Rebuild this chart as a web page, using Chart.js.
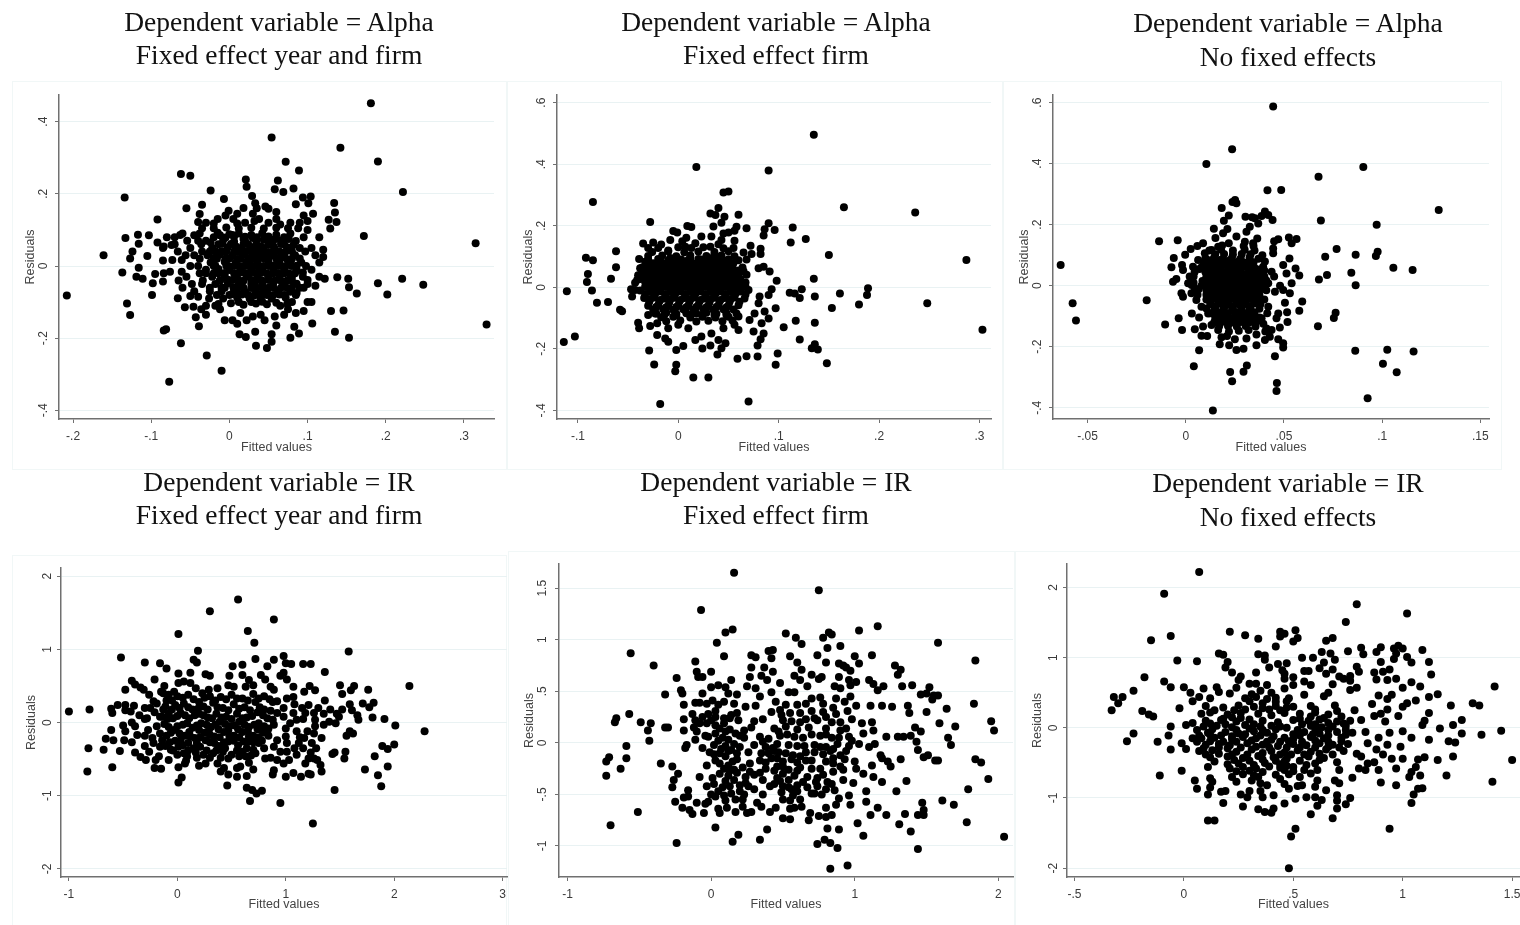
<!DOCTYPE html>
<html>
<head>
<meta charset="utf-8">
<title>Residuals vs fitted values</title>
<script src="https://cdn.jsdelivr.net/npm/chart.js@4"></script>
<style>
  html, body { margin: 0; padding: 0; background: #fff; width: 1520px; height: 925px; overflow: hidden; }
  #page { position: relative; width: 1520px; height: 925px; overflow: hidden; filter: blur(0.4px); }
  .frame { position: absolute; box-sizing: border-box; border: 1px solid #f1f7f7; }
  .title { position: absolute; width: 500px; text-align: center; font-family: "Liberation Serif", serif; font-size: 27.5px; line-height: 33.5px; color: #111; white-space: nowrap; }
  canvas { position: absolute; }
</style>
</head>
<body>
<div id="page"></div>
<script>
// residuals vs fitted: [fitted, residual]
const alphaYearFirm = [
[.181,.451],[.054,.356],[.142,.328],[.072,.289],[.19,.29],[.089,.265],[-.062,.255],[-.05,.25],[.021,.24],[.022,.22],[.062,.237],[.058,.213],[.069,.205],[.082,.215],[-.024,.209],[.222,.205],[-.134,.19],[.029,.194],[-.007,.186],[.094,.19],[.104,.193],[.101,.174],[.134,.175],[.085,.171],[-.035,.17],[-.055,.16],[.018,.161],[.033,.174],[.035,.16],[.046,.165],[.05,.159],[-.001,.153],[-.038,.144],[.135,.148],[.107,.145],[-.092,.129],[.127,.128],[.137,.122],[.129,.104],[.172,.083],[.315,.063],[-.161,.03],[-.208,-.082],[-.137,-.018],[-.131,-.104],[-.127,-.136],[-.133,.078],[-.117,.087],[-.103,.085],[-.116,.062],[-.092,.065],[-.124,.04],[-.127,.021],[-.105,.028],[-.116,-.005],[-.119,-.03],[-.111,-.035],[-.098,-.048],[-.095,-.022],[-.085,-.043],[-.084,-.02],[-.076,-.016],[-.099,-.08],[-.085,.015],[-.073,.017],[-.061,.017],[-.084,.054],[-.08,.08],[-.074,.058],[-.063,.086],[-.061,-.016],[-.066,-.089],[-.057,-.114],[-.05,-.083],[-.046,-.113],[-.043,-.142],[-.039,-.167],[-.062,-.214],[-.084,-.179],[-.081,-.175],[-.077,-.321],[-.01,-.29],[-.029,-.248],[.034,-.221],[.048,-.227],[.054,-.21],[.021,-.197],[.013,-.189],[.033,-.182],[.054,-.189],[.078,-.199],[.083,-.168],[.089,-.187],[.106,-.159],[.135,-.182],[.153,-.199],[.13,-.125],[.146,-.123],[.163,-.076],[.153,-.059],[.152,-.035],[.138,-.031],[.19,-.048],[.202,-.079],[.221,-.035],[.248,-.052],[.329,-.162],
[-.015,.092],[0,.088],[.012,.09],[.028,.086],[.042,.091],[.06,.087],[.078,.09],[-.03,.07],[-.008,.072],[.006,.068],[.02,.07],[.035,.072],[.05,.068],[.066,.071],[.085,.069],[-.022,.05],[-.002,.052],[.013,.049],[.028,.051],[.044,.05],[.058,.048],[.074,.052],[.09,.05],[-.028,.03],[-.012,.032],[.004,.029],[.018,.031],[.03,.03],[.042,.032],[.056,.029],[.07,.031],[.084,.03],[-.024,.01],[-.006,.012],[.008,.009],[.022,.011],[.036,.01],[.05,.012],[.064,.009],[.078,.011],[.092,.01],[-.03,-.01],[-.014,-.008],[0,-.011],[.014,-.009],[.028,-.01],[.042,-.008],[.056,-.011],[.07,-.009],[.086,-.01],[-.022,-.03],[-.006,-.028],[.008,-.031],[.022,-.029],[.036,-.03],[.05,-.028],[.064,-.031],[.08,-.029],[.094,-.03],[-.018,-.05],[-.002,-.048],[.012,-.051],[.028,-.049],[.042,-.05],[.056,-.048],[.07,-.051],[.086,-.049],[-.01,-.07],[.006,-.068],[.02,-.071],[.034,-.069],[.048,-.07],[.062,-.068],[.078,-.071],[-.008,-.09],[.01,-.088],[.026,-.091],[.04,-.089],[.054,-.09],[.072,-.088],
[-.05,.05],[-.045,.03],[-.05,0],[-.04,.07],[-.038,.09],[-.045,.085],[-.035,.105],[-.04,.122],[-.03,.12],[-.015,.13],[-.005,.14],[.005,.13],[.01,.145],[.02,.12],[.032,.125],[.038,.13],[.05,.12],[.06,.13],[.065,.115],[.075,.105],[.09,.12],[.095,.14],[.088,.105],[.1,.1],[.095,.08],[.115,.08],[.105,.05],[.12,.045],[.11,.03],[.12,.025],[.115,.01],[.105,-.01],[.115,-.03],[.122,-.035],[.1,-.05],[.11,-.055],[.095,-.06],[.085,-.08],[.08,-.1],[.075,-.12],[.085,-.13],[.07,-.135],[.065,-.11],[.058,-.14],[.045,-.15],[.04,-.135],[.03,-.14],[.022,-.15],[.014,-.13],[.004,-.15],[-.006,-.15],[-.012,-.12],[-.018,-.11],[-.026,-.09],[-.03,-.11],[-.036,-.12],[-.04,-.085],[-.048,-.05],[-.055,-.03],[-.045,-.07],[-.025,-.07],[-.035,-.05],[-.038,-.02],[.1,-.1],[.105,-.1],[.095,-.125],[-.056,.03],[-.054,.07],[-.06,.09],[-.085,.05],[-.07,.06],[-.066,.04],
[-.02,.08],[-.005,.079],[.006,.082],[.02,.081],[.035,.08],[.05,.082],[.07,.08],[-.036,.06],[-.014,.06],[.002,.061],[.018,.06],[.034,.059],[.05,.06],[.066,.061],[.082,.058],[-.035,.04],[-.018,.041],[-.004,.04],[.01,.039],[.022,.04],[.036,.041],[.05,.039],[.064,.04],[.08,.041],[.097,.04],[-.038,.02],[-.016,.02],[0,.021],[.014,.02],[.028,.019],[.044,.021],[.06,.02],[.074,.019],[.09,.021],[-.04,0],[-.02,0],[-.004,.001],[.012,0],[.024,.001],[.036,-.001],[.05,0],[.064,.001],[.08,0],[.098,0],[-.03,-.02],[-.014,-.02],[.006,-.021],[.02,-.019],[.034,-.02],[.048,-.021],[.062,-.019],[.076,-.02],[.094,-.018],[-.034,-.04],[-.012,-.04],[.004,-.039],[.018,-.041],[.034,-.04],[.05,-.039],[.066,-.041],[.08,-.04],[.1,-.039],[-.025,-.06],[-.006,-.06],[.012,-.059],[.028,-.061],[.042,-.06],[.056,-.059],[.074,-.061],[.09,-.06],[-.016,-.08],[0,-.08],[.016,-.079],[.032,-.081],[.048,-.08],[.064,-.079],[.086,-.075],[-.014,-.105],[.002,-.103],[.018,-.107],[.034,-.104],[.048,-.106],[.06,-.102],[.074,-.105],[-.02,.105],[-.004,.107],[.012,.104],[.028,.106],[.044,.104],[.06,.106],[.01,.118],[-.02,.118],[.078,.12],[.076,.075],[-.06,-.06],[-.03,-.135],[.01,-.16],[.06,-.165],[.03,.145],[.06,.15],[.1,.125],[-.07,.08],[-.065,-.04]
];
const alphaYearFirmCore = [
[-.012,.085],[.004,.086],[.018,.075],[.03,.078],[.044,.073],[.058,.074],[-.024,.065],[-.009,.062],[.008,.055],[.024,.06],[.04,.055],[.056,.056],[.07,.06],[-.025,.04],[-.01,.041],[.006,.04],[.016,.041],[.03,.044],[.042,.042],[.058,.04],[.072,.04],[-.02,.022],[-.005,.02],[.01,.019],[.024,.02],[.036,.022],[.05,.022],[.066,.022],[.08,.02],[-.018,.001],[-.002,.001],[.006,0],[.018,0],[.03,0],[.044,0],[.058,.002],[.072,0],[.086,.001],[-.02,-.02],[-.006,-.019],[.012,-.02],[.026,-.02],[.04,-.019],[.056,-.02],[.07,-.02],[.084,-.02],[-.012,-.04],[-.002,-.038],[.012,-.04],[.028,-.039],[.042,-.04],[.058,-.04],[.074,-.04],[-.01,-.06],[.005,-.059],[.018,-.06],[.034,-.059],[.05,-.06],[.066,-.06],[.08,-.06],[.003,-.078],[.012,-.079],[.024,-.08],[.04,-.079],[.056,-.08],[.07,-.08],[.012,-.1],[.028,-.1],[.042,-.099]
];
const alphaFirm = [
[.135,.496],[.018,.391],[.09,.38],[-.085,.277],[.045,.308],[.05,.311],[.165,.26],[.236,.243],[.04,.258],[.032,.24],[.037,.235],[.06,.236],[.046,.229],[-.028,.212],[.043,.21],[.035,.198],[.009,.199],[.013,.196],[.09,.208],[.114,.194],[.058,.197],[.068,.192],[.096,.186],[.086,.189],[.085,.168],[.056,.184],[-.005,.183],[-.001,.178],[.127,.157],[.112,.146],[.008,.161],[.023,.165],[.033,.165],[.045,.175],[.05,.178],[.043,.154],[.056,.151],[-.035,.142],[-.025,.146],[-.017,.139],[-.008,.154],[.007,.132],[.017,.143],[.032,.132],[.045,.127],[.072,.135],[.082,.125],[.065,.113],[.073,.108],[.082,.108],[.15,.105],[-.062,.117],[-.092,.096],[-.085,.088],[-.039,.092],[-.062,.065],[-.09,.043],[-.067,.028],[-.091,.017],[-.086,-.01],[-.111,-.013],[-.081,-.05],[-.07,-.048],[-.058,-.073],[-.056,-.078],[-.114,-.178],[-.103,-.16],[.287,.089],[.248,-.052],[.303,-.138],[.135,.028],[.136,-.03],[.098,.021],[.091,.051],[.085,.067],[.08,.062],[.123,-.006],[.111,-.018],[.116,-.02],[.121,-.035],[.161,-.02],[.189,-.003],[.188,-.025],[.18,-.056],[.153,-.067],[.097,-.068],[.093,-.006],[.09,-.025],[.081,-.03],[.08,-.052],[.076,-.085],[.086,-.079],[.09,-.101],[.083,-.117],[.071,-.106],[.06,-.095],[.056,-.122],[.06,-.139],[.075,-.144],[.085,-.15],[.082,-.169],[.079,-.189],[.117,-.109],[.105,-.13],[.136,-.115],[.121,-.17],[.133,-.198],[.136,-.185],[.139,-.202],[.099,-.215],[.097,-.252],[.148,-.247],[.079,-.225],[.068,-.224],[.059,-.232],[.07,-.371],[-.018,-.379],[.015,-.293],[.03,-.293],[-.003,-.273],[-.002,-.252],[-.024,-.251],[-.029,-.205],[-.002,-.204],[.005,-.191],[.024,-.199],[.032,-.189],[.039,-.218],[.043,-.198],[.047,-.182],[.04,-.171],[.033,-.15],[.045,-.133],[.017,-.171],[.023,-.16],[.01,-.133],[0,-.122],[-.01,-.133],[-.01,-.177],[-.013,-.166],[-.021,-.155],[-.039,-.133],[-.04,-.115],[-.028,-.126],[-.021,-.117],[-.03,-.09],[-.023,-.085],[-.046,-.03],[-.047,-.006],[-.041,.024],[-.043,-.009],[-.038,.062],[-.033,.083],
[-.03,.09],[-.02,.092],[-.01,.088],[0,.091],[.01,.089],[.02,.092],[.03,.088],[.04,.09],[.05,.091],[.06,.088],[-.036,.064],[-.026,.066],[-.016,.063],[-.006,.065],[.004,.067],[.014,.064],[.024,.066],[.034,.063],[.044,.065],[.054,.067],[.064,.064],[-.04,.039],[-.03,.041],[-.02,.038],[-.01,.04],[0,.042],[.01,.039],[.02,.041],[.03,.038],[.04,.04],[.05,.042],[.06,.039],[.068,.041],[-.043,.015],[-.033,.017],[-.023,.014],[-.013,.016],[-.003,.015],[.007,.017],[.017,.014],[.027,.016],[.037,.015],[.047,.017],[.057,.014],[.067,.016],[-.038,-.01],[-.028,-.008],[-.018,-.011],[-.008,-.009],[.002,-.01],[.012,-.008],[.022,-.011],[.032,-.009],[.042,-.01],[.052,-.008],[.062,-.011],[.07,-.009],[-.034,-.035],[-.024,-.033],[-.014,-.036],[-.004,-.034],[.006,-.035],[.016,-.033],[.026,-.036],[.036,-.034],[.046,-.035],[.056,-.033],[.066,-.036],[-.03,-.06],[-.02,-.058],[-.01,-.061],[0,-.059],[.01,-.06],[.02,-.058],[.03,-.061],[.04,-.059],[.05,-.06],[.06,-.058],[-.022,-.085],[-.012,-.083],[-.002,-.086],[.008,-.084],[.018,-.085],[.028,-.083],[.038,-.086],[.048,-.084],[.058,-.085],[-.012,-.11],[.002,-.108],[.018,-.111],[.03,-.109],[.044,-.11],[.054,-.108],[-.026,.115],[-.01,.117],[.006,.114],[.02,.116],[.036,.115],[.05,.117],
[-.025,.078],[-.015,.077],[-.005,.079],[.005,.078],[.015,.077],[.025,.079],[.035,.078],[.045,.077],[.055,.079],[-.035,.052],[-.025,.052],[-.015,.051],[-.005,.053],[.005,.052],[.015,.051],[.025,.053],[.035,.052],[.045,.051],[.055,.053],[.065,.052],[-.038,.027],[-.028,.028],[-.018,.026],[-.008,.028],[.002,.027],[.012,.028],[.022,.026],[.032,.028],[.042,.027],[.052,.028],[.062,.026],[-.033,.002],[-.023,.003],[-.013,.001],[-.003,.003],[.007,.002],[.017,.003],[.027,.001],[.037,.003],[.047,.002],[.057,.003],[.067,.001],[-.033,-.022],[-.023,-.021],[-.013,-.023],[-.003,-.021],[.007,-.022],[.017,-.021],[.027,-.023],[.037,-.021],[.047,-.022],[.057,-.021],[.067,-.023],[-.029,-.048],[-.019,-.047],[-.009,-.049],[.001,-.047],[.011,-.048],[.021,-.047],[.031,-.049],[.041,-.047],[.051,-.048],[.061,-.047],[-.025,-.072],[-.015,-.071],[-.005,-.073],[.005,-.071],[.015,-.072],[.025,-.071],[.035,-.073],[.045,-.071],[.055,-.072],[-.017,-.097],[-.005,-.096],[.012,-.098],[.024,-.096],[.037,-.098],[.05,-.096],[-.03,.102],[-.016,.103],[-.002,.101],[.012,.103],[.028,.102],[.043,.103],[.056,.101],[-.02,.128],[0,.13],[.013,.128],[.025,.13],[.04,.14],[.055,.128],[-.03,.128],[.004,.15],[-.01,.12],[.036,.105],[.068,.09]
];
const alphaFirmCore = [
[-.018,.09],[-.008,.095],[.003,.09],[.012,.095],[.023,.09],[.034,.095],[.044,.088],[-.03,.071],[-.02,.07],[-.01,.072],[.001,.073],[.01,.07],[.02,.072],[.03,.071],[.04,.073],[.05,.071],[-.032,.052],[-.021,.054],[-.01,.053],[0,.055],[.01,.053],[.02,.054],[.03,.053],[.04,.055],[.05,.053],[.06,.055],[-.034,.033],[-.024,.034],[-.014,.033],[-.004,.034],[.006,.033],[.016,.034],[.026,.033],[.036,.034],[.046,.033],[.056,.034],[-.028,.01],[-.018,.011],[-.008,.01],[.002,.011],[.012,.01],[.022,.011],[.032,.01],[.042,.011],[.052,.01],[.062,.011],[-.028,-.015],[-.018,-.014],[-.008,-.015],[.002,-.014],[.012,-.015],[.022,-.014],[.032,-.015],[.042,-.014],[.052,-.015],[.062,-.014],[-.028,-.04],[-.018,-.041],[-.008,-.04],[.002,-.041],[.012,-.04],[.022,-.041],[.032,-.04],[.042,-.041],[.052,-.04],[-.022,-.064],[-.012,-.065],[-.002,-.064],[.008,-.065],[.018,-.064],[.028,-.065],[.038,-.064],[.048,-.065],[-.014,-.09],[-.002,-.09],[.012,-.09],[.024,-.09],[.036,-.09],[.048,-.09]
];
const alphaNone = [
[.0445,.587],[.0236,.447],[.0105,.399],[.0904,.389],[.0676,.357],[.0416,.313],[.0486,.314],[.0251,.281],[.0238,.274],[.0258,.27],[.0183,.255],[.1288,.248],[.0403,.243],[.042,.232],[.0386,.228],[.0442,.215],[.0352,.221],[.0304,.226],[.0338,.224],[.0688,.214],[.0219,.23],[.0194,.213],[.0972,.2],[.0143,.187],[.0212,.186],[.019,.172],[.0369,.204],[.0326,.193],[.0309,.177],[-.0136,.146],[-.0041,.149],[.0151,.156],[.0258,.161],[.0364,.155],[.0471,.152],[.045,.146],[.0525,.158],[.0564,.153],[.0539,.139],[.0088,.139],[.0059,.13],[.0025,.12],[.0165,.128],[.0219,.139],[.0301,.144],[.0343,.139],[.0445,.122],[.0445,.106],[.0768,.12],[.0865,.101],[.0977,.111],[.0968,.097],[.071,.095],[.0528,.089],[-.0061,.091],[-.0003,.101],[-.0073,.06],[-.0019,.068],[-.0014,.051],[-.0048,.022],[-.0065,.013],[-.0637,.068],[.1057,.059],[.1155,.051],[.0843,.042],[.0719,.035],[.0678,.02],[.0865,.001],[.0559,.056],[.0578,.033],[.0496,.068],[.0513,.04],[.0539,.008],[.053,-.025],[.0496,-.014],[.0454,-.02],[.042,.008],[.0437,.046],[.0403,.079],[.0394,.062],[-.0576,-.058],[-.0559,-.114],[-.0199,-.048],[-.0105,-.127],[-.0036,-.107],[-.0019,-.145],[.0031,-.091],[.0046,-.143],[.0068,-.104],[.0088,-.134],[.008,-.164],[.0109,-.165],[.0068,-.212],[.0041,-.264],[.0593,-.052],[.0578,-.082],[.0505,-.056],[.0516,-.087],[.0518,-.119],[.0471,-.091],[.0462,-.107],[.0479,-.137],[.0437,-.145],[.0411,-.14],[.0428,-.167],[.0403,-.178],[.0471,-.176],[.0496,-.189],[.0496,-.203],[.0454,-.231],[.036,-.195],[.0294,-.207],[.0258,-.211],[.0221,-.195],[.0173,-.192],[.0309,-.173],[.025,-.176],[.0182,-.169],[.0386,-.107],[.042,-.069],[.0226,-.283],[.0236,-.313],[.0294,-.282],[.0311,-.262],[.0464,-.319],[.0462,-.345],[.0138,-.409],[.0926,-.369],[.0863,-.213],[.1026,-.21],[.116,-.216],[.1004,-.256],[.1074,-.284],[.0673,-.133],[.0763,-.089],[.0754,-.106],[-.0022,-.025],[-.0014,-.036],[.002,.03],[.0012,.008],[.0029,-.025],[.0054,-.047],[.0046,-.009],[.008,-.069],[.0114,-.091],[.0131,-.129],[.0063,.084],[.0037,.062],[.0097,.106],[.0131,.117],
[.01,.09],[.0145,.092],[.019,.088],[.0235,.091],[.028,.089],[.0325,.092],[.037,.088],[.008,.06],[.0125,.062],[.017,.059],[.0215,.061],[.026,.06],[.0305,.062],[.035,.059],[.04,.03],[.0105,.03],[.015,.032],[.0195,.029],[.024,.031],[.0285,.03],[.033,.032],[.0375,.029],[.008,0],[.0125,.002],[.017,-.001],[.0215,.001],[.026,0],[.0305,.002],[.035,-.001],[.0395,.001],[.0105,-.03],[.015,-.028],[.0195,-.031],[.024,-.029],[.0285,-.03],[.033,-.028],[.0375,-.031],[.0125,-.06],[.017,-.058],[.0215,-.061],[.026,-.059],[.0305,-.06],[.035,-.058],[.038,-.061],[.0125,-.09],[.017,-.088],[.0215,-.091],[.026,-.089],[.0305,-.09],[.035,-.088],[.0145,-.12],[.019,-.118],[.0235,-.121],[.028,-.119],[.0325,-.12],[.036,-.118],[.0165,-.145],[.022,-.15],[.027,-.148],[.032,-.145],[.012,.115],[.018,.118],[.024,.115],[.03,.118],[.035,.115],[.004,.03],[.004,.01],[.006,-.03],[.007,.055],
[.012,.076],[.0165,.075],[.021,.077],[.0255,.076],[.03,.075],[.0345,.077],[.01,.045],[.0145,.046],[.019,.044],[.0235,.046],[.028,.045],[.0325,.046],[.037,.044],[.0085,.015],[.013,.016],[.0175,.014],[.022,.016],[.0265,.015],[.031,.016],[.0355,.014],[.0105,-.015],[.015,-.014],[.0195,-.016],[.024,-.014],[.0285,-.015],[.033,-.014],[.0375,-.016],[.0105,-.045],[.015,-.044],[.0195,-.046],[.024,-.044],[.0285,-.045],[.033,-.044],[.0375,-.046],[.0105,-.075],[.015,-.074],[.0195,-.076],[.024,-.074],[.0285,-.075],[.033,-.074],[.0375,-.076],[.015,-.105],[.0195,-.104],[.024,-.106],[.0285,-.104],[.033,-.105],[.0375,-.104],[.017,-.133],[.0215,-.132],[.026,-.134],[.0305,-.132],[.0355,-.134],[.015,.103],[.0195,.104],[.024,.102],[.0285,.104],[.033,.103],[.003,.002],[.0065,-.012],[.0045,.045],[.009,.075],[.04,.05],[.041,.017],[.041,-.015],[.04,-.045],[.0415,-.09],[.0395,-.125],[.0405,-.15],[.036,-.16],[.021,-.165],[.0295,.13],[.0185,.132],[.039,.1],[.0345,.13],[.045,.03],[.048,.0]
];
const alphaNoneCore = [
[.0125,.083],[.0175,.084],[.0225,.083],[.0275,.084],[.0325,.083],[.0105,.068],[.015,.069],[.0195,.068],[.024,.069],[.0285,.068],[.033,.069],[.0125,.052],[.0175,.053],[.0225,.052],[.0275,.053],[.0325,.052],[.0375,.053],[.0125,.038],[.017,.037],[.0215,.038],[.026,.037],[.0305,.038],[.035,.037],[.0105,.022],[.015,.023],[.0195,.022],[.024,.023],[.0285,.022],[.033,.023],[.0375,.022],[.0105,.007],[.015,.008],[.0195,.007],[.024,.008],[.0285,.007],[.033,.008],[.0375,.007],[.0125,-.008],[.017,-.007],[.0215,-.008],[.026,-.007],[.0305,-.008],[.035,-.007],[.0125,-.022],[.017,-.023],[.0215,-.022],[.026,-.023],[.0305,-.022],[.035,-.023],[.0125,-.038],[.017,-.037],[.0215,-.038],[.026,-.037],[.0305,-.038],[.035,-.037],[.0125,-.052],[.017,-.053],[.0215,-.052],[.026,-.053],[.0305,-.052],[.035,-.053],[.0145,-.068],[.019,-.067],[.0235,-.068],[.028,-.067],[.0325,-.068],[.0145,-.082],[.019,-.083],[.0235,-.082],[.028,-.083],[.0325,-.082],[.0165,-.098],[.021,-.097],[.0255,-.098],[.03,-.097],[.0345,-.098],[.0165,-.112],[.021,-.111],[.0255,-.112],[.03,-.111]
];
const irYearFirm = [
[.56,1.68],[.3,1.52],[.89,1.41],[.01,1.21],[.65,1.25],[.71,1.09],[.19,.98],[1.58,.97],[-.52,.89],[.72,.87],[.98,.91],[.89,.86],[.15,.86],[.18,.82],[-.3,.82],[-.16,.81],[-.1,.74],[.51,.77],[.6,.79],[1,.81],[1.05,.8],[1.16,.8],[1.23,.8],[.83,.77],[1.36,.69],[.01,.67],[.12,.68],[.26,.66],[.3,.64],[.48,.64],[.6,.65],[.98,.68],[.95,.64],[1.01,.59],[.77,.65],[.81,.59],[-.21,.59],[-.42,.57],[-.39,.52],[-.34,.48],[-.48,.45],[-.31,.45],[-.26,.38],[1.5,.51],[1.63,.5],[1.6,.44],[1.52,.39],[1.76,.45],[2.14,.5],[1.22,.5],[1.17,.42],[1.27,.44],[1.07,.49],[1.59,.25],[1.36,.3],[1.71,.26],[1.81,.27],[1.77,.21],[1.52,.18],[1.41,.18],
[-1,.15],[-.81,.18],[-.61,.19],[-.6,.13],[-.55,.24],[-.48,.24],[-.48,.17],[-.4,.23],[-.43,.15],[-.3,.2],[-.35,.1],[-.28,.06],[-.42,0],[-.39,-.05],[-.5,-.04],[-.61,-.1],[-.48,-.12],[-.37,-.17],[-.66,-.22],[-.59,-.24],[-.49,-.24],[-.42,-.27],[-.68,-.37],[-.82,-.35],[-.53,-.39],[-.39,-.41],[-.34,-.47],[-.29,-.51],[-.3,-.32],[-.26,-.4],[-.83,-.67],[-.6,-.61],[-.21,-.62],[-.15,-.63],[-.2,-.51],[-.17,-.46],[-.23,-.21],[-.22,-.28],[-.16,-.33],[-.22,.29],[-.19,.26],[-.21,.14],[-.16,.08],[-.19,-.05],[-.16,-.15],[-.13,.4],[-.08,.38],[-.11,.22],
[.01,-.82],[.04,-.75],[.01,-.61],[.07,-.56],[.2,-.59],[.26,-.56],[-.08,-.51],[-.06,-.37],[0,-.44],[.06,-.42],[.09,-.46],[.15,-.35],[.4,-.67],[.37,-.56],[.43,-.62],[.47,-.71],[.46,-.86],[.55,-.74],[.55,-.62],[.58,-.6],[.63,-.46],[.64,-.73],[.7,-.64],[.64,-.89],[.69,-.92],[.73,-.97],[.78,-.93],[.67,-1.07],[.95,-1.1],[1.25,-1.38],[1.45,-.92],[1,-.74],[.89,-.65],[.88,-.71],[1.07,-.69],[1.14,-.74],[1.21,-.7],[1.23,-.71],[1.33,-.67],[1.32,-.58],[1.29,-.51],[1.18,-.56],[1.21,-.49],[1.26,-.49],[1.23,-.41],[1.03,-.51],[.98,-.56],[.92,-.51],[.81,-.49],[.86,-.48],[1.01,-.4],[.95,-.4],[.89,-.33],[.8,-.35],[.7,-.37],[1.33,-.21],[1.12,-.28],[1.17,-.21],[1.24,-.28],[1.26,-.15],[1.27,-.05],[1.1,-.12],[1,-.19],[1.01,-.28],[.92,-.24],[1.43,-.43],[1.45,-.41],[1.55,-.4],[1.54,-.49],[1.56,-.18],[1.59,-.12],[1.62,-.15],[1.73,-.64],[1.82,-.46],[1.85,-.72],[1.88,-.87],[1.94,-.6],[1.89,-.32],[1.94,-.36],[2,-.3],[2.01,-.04],[1.91,.05],[1.8,.07],[2.28,-.12],[1.35,-.03],[1.4,.01],[1.46,-.01],[1.49,.08],[1.66,.1],[1.67,.04],[1.61,.17],[1.21,.24],[1.18,.13],[1.26,.13],[1.27,.04],[1.07,.13],[1.04,-.01],[1.1,.04],[.98,.08],[.92,.13],[1.01,.33],[1.07,.35],[.92,.29],[.86,.49],[.89,.45],[.7,.51],[.66,.58],[.63,.49],[.52,.49],[.47,.51],[.37,.47],[.29,.45],[.23,.4],[.17,.47],[.12,.54],[.06,.56],[.01,.54],[-.03,.42],
[-.1,.3],[0,.36],[.1,.38],[.2,.28],[.3,.36],[.4,.35],[.5,.38],[.6,.33],[.7,.39],[.8,.36],[.88,.28],[-.08,.12],[-.02,.24],[.06,.26],[.14,.18],[.24,.22],[.33,.27],[.42,.2],[.52,.25],[.62,.21],[.72,.28],[.8,.18],[-.12,-.02],[-.04,.06],[.03,.13],[.11,.06],[.2,.12],[.28,.07],[.36,.12],[.45,.08],[.55,.12],[.64,.07],[.74,.14],[.83,.06],[-.1,-.18],[-.03,-.1],[.05,-.03],[.14,-.07],[.22,-.01],[.31,-.06],[.39,.01],[.48,-.05],[.57,.01],[.66,-.06],[.75,-.01],[.84,-.08],[-.11,-.32],[-.02,-.25],[.07,-.18],[.16,-.21],[.25,-.14],[.34,-.19],[.43,-.13],[.52,-.18],[.6,-.13],[.7,-.18],[.79,-.14],[-.04,-.38],[.05,-.31],[.21,-.33],[.3,-.27],[.38,-.32],[.47,-.26],[.56,-.31],[.65,-.26],[.75,-.28],[.24,-.44],[.33,-.42],[.42,-.4],[.5,-.44],[.6,-.4],[.68,-.45],
[-.05,.3],[.05,.34],[.15,.32],[.25,.34],[.35,.3],[.45,.32],[.55,.33],[.65,.3],[.75,.33],[.85,.32],[-.13,.18],[-.05,.18],[.02,.2],[.1,.21],[.19,.19],[.28,.18],[.37,.21],[.47,.17],[.57,.19],[.67,.17],[.76,.21],[.86,.16],[-.14,.08],[-.09,.05],[0,.09],[.07,.1],[.16,.1],[.24,.1],[.32,.06],[.41,.07],[.5,.05],[.6,.06],[.69,.09],[.79,.1],[.88,.04],[-.08,-.06],[0,-.05],[.09,-.01],[.18,-.04],[.27,-.03],[.35,-.03],[.44,-.02],[.53,-.04],[.62,-.03],[.71,-.03],[.8,-.05],[.89,-.03],[-.14,-.24],[-.06,-.14],[.02,-.15],[.11,-.13],[.2,-.1],[.29,-.11],[.38,-.09],[.47,-.11],[.56,-.09],[.65,-.12],[.74,-.09],[.83,-.12],[-.07,-.27],[.03,-.24],[.12,-.19],[.21,-.2],[.3,-.17],[.39,-.2],[.48,-.19],[.57,-.2],[.66,-.19],[.75,-.2],[.84,-.18],[.01,-.33],[.1,-.28],[.18,-.28],[.26,-.24],[.34,-.28],[.43,-.27],[.52,-.25],[.61,-.26],[.7,-.27],[.78,-.25],[.1,-.38],[.17,-.41],[.27,-.38],[.36,-.38],[.44,-.35],[.55,-.38],[.64,-.35],[.72,-.42],[.08,-.52],[.18,-.48],[.3,-.48],[.4,-.48],[.47,-.49],[.57,-.46],[.66,-.55],[1.08,.25],[1.15,.2],[.98,.2],[1.0,-.08],[1.13,-.2],[1.2,-.12],[1.16,.05],[1.3,.2],[1.35,.12],[1.47,.12],[1.08,-.35],[1.1,-.44],[1.16,-.35],[1.28,-.35],[-.15,.42],[-.25,.2],[-.3,.05],[-.12,.5],[-.27,-.1],[-.3,-.18]
];
const irFirm = [
[.16,1.65],[.75,1.48],[-.07,1.29],[1.03,1.09],[1.16,1.13],[.15,1.1],[.1,1.07],[.04,.97],[.52,1.06],[.59,1.02],[.63,.96],[.78,1.02],[.82,1.07],[.84,1.05],[.81,.92],[.9,.94],[1.58,.97],[-.56,.87],[-.4,.75],[.09,.84],[-.11,.79],[.4,.89],[.43,.9],[.42,.82],[.28,.85],[.31,.83],[.55,.84],[.74,.85],[.6,.78],[.8,.78],[.89,.77],[.92,.75],[1,.84],[1.03,.77],[1.12,.85],[1.84,.8],[1.28,.75],[1.32,.71],[1.3,.66],
[.28,.73],[.37,.73],[.43,.69],[.63,.71],[.7,.66],[.94,.73],[.97,.7],[0,.69],[-.1,.69],[-.09,.64],[-.06,.64],[-.24,.63],[.27,.64],[.35,.65],[.39,.61],[.58,.65],[.62,.61],[.75,.62],[.77,.64],[.89,.64],[.96,.61],[1.01,.59],[1.1,.61],[1.13,.57],[.14,.61],[.48,.58],[.25,.55],[.31,.53],[.05,.56],[0,.54],[.1,.54],[.67,.55],[.86,.55],[.9,.53],[.97,.56],[1.2,.55],[1.16,.51],[1.33,.55],[1.4,.56],[1.52,.54],[1.5,.48],[1.46,.47],[1.54,.42],[1.58,.46],[1.55,.46],[-.21,.51],[-.2,.48],[-.32,.47],[-.06,.48],[.12,.48],[.18,.47],[.34,.45],[.42,.49],[.54,.49],[.58,.49],[.76,.44],[.7,.43],[.87,.43],[.97,.45],[-.19,.37],[-.11,.39],[-.08,.39],[-.03,.38],[.05,.37],[.24,.35],[.31,.36],[.93,.4],[1.01,.36],[1.11,.36],[1.19,.36],[1.26,.35],[1.37,.36],[1.38,.29],[1.5,.3],[1.64,.33],[1.83,.38],[1.95,.21],[1.97,.12],[1.59,.19],[1.7,.16],[1.65,.05],[1.67,-.02],
[-.57,.28],[-.66,.24],[-.67,.2],[-.49,.2],[-.42,.19],[-.44,.12],[-.43,.02],[-.32,.15],[-.3,.15],[-.19,.23],[-.13,.28],[-.11,.22],[-.19,.12],[-.06,.25],[-.02,.28],[-.12,.15],[-.08,.19],[-.03,.19],[-.1,.11],[-.04,.07],[.03,.17],[.09,.19],[.14,.27],[.19,.22],[.1,.11],[.17,.09],[.23,.12],[-.11,.03],[-.17,-.02],[-.18,-.05],[-.59,-.03],
[1.22,.06],[1.3,.06],[1.34,.06],[1.39,.07],[1.42,.15],[1.46,.11],[1.43,.01],[1.44,-.07],[1.48,-.14],[1.51,-.12],[1.56,-.17],[1.58,-.17],[1.32,-.16],[1.18,-.12],[1.19,-.15],[1.14,-.01],[1.12,.2],[1.13,.12],[1.05,.19],[1.06,.09],[.96,.06],[1.03,-.01],[1.1,-.04],[1.23,-.18],[1.25,-.23],[1.84,-.16],[1.88,-.19],[1.93,-.35],[1.79,-.45],[1.78,-.77],[1.69,-.6],[1.61,-.56],[2.04,-.91],
[-.73,-.18],[-.71,-.14],[-.73,-.32],[-.59,-.15],[-.63,-.25],[-.35,-.2],[-.27,-.23],[-.23,-.3],[-.26,-.36],[-.27,-.43],[-.51,-.67],[-.7,-.8],[-.25,-.57],[-.2,-.63],[-.19,-.53],[-.16,-.52],[-.16,-.46],[-.15,-.65],[-.13,-.69],[-.24,-.97],[-.1,-.58],[-.05,-.68],[-.04,-.59],[-.02,-.57],[.03,-.52],[.05,-.64],[.06,-.68],[.11,-.63],[.17,-.67],[.22,-.62],[.25,-.68],[.28,-.67],[.03,-.82],[.15,-.96],[.19,-.89],[.34,-.94],[.39,-.84],[.32,-.58],[.35,-.62],[.41,-.67],[.45,-.63],[.36,-.5],[.5,-.73],[.55,-.74],[.55,-.64],[.58,-.63],[.63,-.62],[.68,-.75],[.69,-.68],[.75,-.71],[.8,-.72],[.84,-.7],[.8,-.63],[.81,-.83],[.74,-.98],[.79,-.94],[.83,-.97],[.88,-1.02],[.89,-.84],[.83,-1.22],[.95,-1.19],[1.44,-1.03],[1.39,-.86],[1.31,-.79],[1.35,-.69],[1.44,-.7],[1.48,-.7],[1.47,-.58],[1.48,-.65],[1.22,-.7],[1.16,-.63],[1.11,-.7],[1.02,-.78],[1.06,-.9],[1.08,-.57],[1.08,-.47],[1.29,-.47],[1.36,-.37],[1.19,-.38],[1.13,-.33],[1.06,-.3],[1.01,-.25],[1.12,-.22],[.99,-.39],[.96,-.51],[.97,-.6],[.87,-.6],[.89,-.54],[.86,-.46],[.81,-.38],[.72,-.49],[.73,-.38],[.92,-.26],[.92,-.36],[.85,-.2],
[.03,.31],[.18,.29],[.42,.3],[.48,.32],[.62,.29],[.7,.31],[.78,.3],[.87,.28],[.95,.31],[0,.22],[.09,.24],[.3,.21],[.36,.23],[.5,.22],[.56,.21],[.66,.23],[.74,.22],[.84,.2],[.98,.23],[.06,.14],[.13,.13],[.28,.15],[.44,.14],[.52,.16],[.6,.13],[.68,.15],[.8,.14],[.9,.12],[-.02,.06],[.08,.05],[.2,.07],[.34,.06],[.4,.04],[.48,.07],[.64,.05],[.76,.07],[.84,.05],[.96,-.03],[.02,-.02],[.1,-.03],[.16,-.01],[.3,-.02],[.38,-.04],[.46,-.01],[.6,-.03],[.72,-.02],[.8,-.04],[.88,-.01],[-.01,-.09],[.06,-.1],[.12,-.08],[.26,-.09],[.4,-.1],[.44,-.08],[.52,-.1],[.66,-.09],[.78,-.11],[.94,-.08],[.03,-.17],[.15,-.18],[.18,-.16],[.34,-.17],[.42,-.15],[.5,-.18],[.56,-.16],[.7,-.17],[.85,-.15],[1,-.18],[.09,-.25],[.16,-.26],[.22,-.24],[.38,-.25],[.46,-.23],[.54,-.26],[.62,-.24],[.76,-.25],[.9,-.23],[-.08,-.33],[.01,-.34],[.12,-.32],[.24,-.33],[.3,-.31],[.46,-.34],[.58,-.32],[.67,-.33],[.78,-.31],[-.03,-.42],[.08,-.43],[.2,-.41],[.26,-.42],[.44,-.4],[.54,-.43],[.6,-.41],[.74,-.42],[.84,-.4],[0,-.5],[.09,-.51],[.14,-.49],[.23,-.5],[.49,-.48],[.57,-.51],[.7,-.49],[.77,-.5],
[.01,.41],[.09,.4],[.16,.38],[.45,.4],[.52,.37],[.6,.37],[.66,.38],[.78,.38],[.85,.34],[.03,.25],[.13,.24],[.49,.27],[.55,.29],[.62,.2],[.72,.24],[.8,.25],[.9,.2],[.03,.09],[.12,.03],[.23,.05],[.47,.11],[.53,.08],[.58,.06],[.7,.08],[.8,.08],[.89,.05],[.94,.14],[.05,.02],[.07,-.06],[.14,-.07],[.2,-.04],[.36,.01],[.43,-.05],[.54,-.02],[.65,-.03],[.76,-.04],[.85,-.06],[.98,.02],[-.06,-.05],[.02,-.11],[.1,-.13],[.18,-.1],[.35,-.1],[.47,-.09],[.57,-.12],[.62,-.13],[.72,-.09],[.83,-.08],[.9,-.12],[-.03,-.22],[.06,-.2],[.12,-.22],[.27,-.2],[.38,-.19],[.46,-.15],[.5,-.23],[.6,-.19],[.66,-.17],[.8,-.18],[.93,-.16],[.06,-.3],[.13,-.27],[.18,-.29],[.27,-.28],[.34,-.29],[.44,-.27],[.5,-.3],[.6,-.27],[.7,-.25],[.85,-.28],[.02,-.4],[.1,-.37],[.16,-.36],[.24,-.39],[.36,-.36],[.48,-.37],[.54,-.36],[.64,-.38],[.74,-.34],[.05,-.47],[.13,-.42],[.2,-.47],[.3,-.45],[.41,-.42],[.5,-.42],[.6,-.47],[.67,-.43],[.8,-.45],[.1,-.56],[.17,-.55],[.22,-.55],[.5,-.55],[.55,-.56],[.62,-.55],[.56,-.45]
];
const irNone = [
[.07,2.22],[-.09,1.91],[.79,1.76],[1.02,1.63],[.74,1.51],[.21,1.37],[.28,1.32],[.34,1.27],[.44,1.37],[.46,1.34],[.44,1.3],[.51,1.39],[.52,1.28],[.5,1.23],[.42,1.16],[-.06,1.31],[-.15,1.25],[.65,1.24],[.68,1.28],[.81,1.14],[.9,1.15],[.96,1.13],[.98,1.17],[1,1.13],[1.09,1.11],[.75,1.09],[.82,1.05],[.88,1.08],[.97,1.06],[.63,1.08],[.67,1.06],[.16,1.06],[.18,1.04],[.34,1.05],[.37,1.03],[.54,1],[.59,1],[1.02,1.01],[.69,.97],[.37,.97],[.96,.98],[-.03,.96],[.06,.95],[.2,.94],[.9,.94],[1.04,.93],[1.12,.94],[.64,.93],[.19,.86],[.39,.86],[.43,.91],[.47,.92],[.45,.82],[.62,.85],[.68,.83],[.79,.87],[.91,.8],[.94,.83],[.87,.79],[.8,.8],[.55,.81],[.57,.81],[.22,.79],[.33,.79],[.46,.77],[.65,.77],[.76,.74],[-.18,.72],[1.13,.76],[.46,.7],[.5,.72],[.71,.73],[.73,.7],[.88,.69],[.93,.68],[.97,.7],[.76,.67],[.25,.68],[.26,.73],[.55,.66],[-.09,.66],[1.04,.65],[.3,.63],[.33,.63],[.68,.62],[.58,.61],[-.06,.58],[0,.58],[1.08,.59],[1.42,.59],[.15,.58],[.09,.56],[.24,.57],[.38,.61],[.46,.56],[.5,.61],[.79,.57],[.76,.54],[1,.57],[-.23,.53],[.03,.5],[.16,.51],[.21,.49],[.66,.5],[1.16,.48],[1.12,.44],[.89,.46],[.95,.47],[.93,.41],[1.06,.39],[1.02,.35],[-.32,.44],[-.28,.44],[-.3,.35],[.04,.38],[.07,.44],[.12,.42],[.64,.45],[.55,.47],[1.32,.35],[1.35,.32],[1.22,.32],[.86,.34],[-.33,.25],[-.19,.24],[-.16,.19],[-.14,.16],[-.02,.28],[1,.3],[.93,.26],[.78,.25],[.69,.32],[1.12,.21],[.98,.17],[.87,.17],[.9,.2],[.81,.11],[1.27,.11],[1.23,.04],[1.1,.1],[1.09,.04],[.92,.09],[-.06,.02],[.01,.04],[.04,.07],[1.17,-.01],[1.45,-.04],[.94,-.07],[1,-.05],[1.27,-.08],[1.36,-.1],[-.23,-.08],[-.07,-.11],[-.26,-.19],[-.12,-.2],[.04,-.15],[.83,-.06],[.89,-.14],[1.04,-.14],[1.12,-.17],[.93,-.24],[.84,-.22],[1.21,-.19],[1.24,-.21],[1.5,-.46],[-.01,-.22],[.01,-.3],[-.06,-.31],[.99,-.27],[.88,-.31],[.91,-.38],[1,-.44],[.95,-.44],[1.23,-.41],[1.16,-.46],[1.1,-.42],[1.07,-.45],[1.06,-.56],[1.04,-.63],[1.03,-.7],[1.08,-.68],[1.2,-.68],[1.41,-.77],[.97,-.58],[.89,-.6],[.8,-.58],[.83,-.6],[.84,-.51],[.87,-.49],[.79,-.37],[.81,-.41],[.77,-.71],[.9,-.78],[.97,-.82],[1.07,-.87],[1.09,-.86],[1.05,-.95],[1.04,-1.07],[.94,-1.44],[-.11,-.68],[-.01,-.61],[.05,-.75],[.06,-.87],[.11,-.56],[.12,-.72],[.13,-.77],[.12,-.85],[.11,-.95],[.17,-.91],[.19,-.9],[.18,-1.07],[.11,-1.32],[.14,-1.32],[.27,-1.12],[.26,-.95],[.29,-.99],[.3,-.9],[.22,-.7],[.24,-.77],[.31,-.75],[.35,-.79],[.35,-.9],[.36,-.99],[.34,-1.16],[.37,-1.2],[.4,-1.21],[.41,-1.15],[.41,-.96],[.38,-.82],[.46,-1.08],[.48,-.87],[.52,-.83],[.54,-.82],[.51,-1.01],[.56,-.99],[.6,-.99],[.63,-1.03],[.61,-1.11],[.58,-1.23],[.65,-.89],[.6,-.84],[.61,-.75],[.7,-.96],[.7,-1.04],[.7,-1.15],[.74,-1.09],[.76,-1],[.68,-1.29],[.49,-1.55],[.51,-1.44],[.48,-2],[.71,-.79],[.69,-.75],[.71,-.6],[.7,-.49],[.53,-.7],[.58,-.65],[.61,-.6],
[.28,.42],[.33,.44],[.38,.41],[.42,.43],[.48,.42],[.1,.31],[.18,.29],[.25,.32],[.32,.3],[.36,.28],[.42,.31],[.47,.29],[.58,.31],[.08,.2],[.12,.22],[.2,.19],[.26,.21],[.34,.2],[.4,.18],[.46,.21],[.53,.2],[.6,.22],[.66,.19],[.1,.1],[.17,.11],[.24,.09],[.3,.12],[.36,.1],[.43,.08],[.5,.11],[.57,.1],[.62,.12],[.7,.09],[.76,.1],[.09,.02],[.15,.03],[.22,.01],[.28,.04],[.35,.02],[.47,0],[.58,.03],[.63,.01],[.68,.02],[.74,.03],[.11,-.07],[.19,-.06],[.25,-.08],[.32,-.05],[.38,-.07],[.5,-.09],[.55,-.06],[.62,-.08],[.7,-.06],[.77,-.07],[.08,-.15],[.14,-.14],[.22,-.16],[.27,-.13],[.33,-.15],[.4,-.17],[.46,-.14],[.5,-.16],[.58,-.13],[.64,-.15],[.72,-.14],[.1,-.24],[.16,-.23],[.21,-.25],[.29,-.22],[.36,-.24],[.43,-.26],[.5,-.23],[.56,-.25],[.62,-.22],[.68,-.24],[.75,-.23],[.07,-.33],[.13,-.32],[.24,-.34],[.31,-.31],[.4,-.33],[.46,-.35],[.52,-.32],[.58,-.34],[.65,-.31],[.73,-.33],[.12,-.42],[.2,-.41],[.27,-.43],[.34,-.4],[.41,-.42],[.47,-.44],[.57,-.41],[.64,-.43],[.2,-.52],[.25,-.51],[.32,-.53],[.37,-.5],[.44,-.52],[.47,-.54],[.6,-.51],[.24,-.62],[.3,-.61],[.36,-.63],[.46,-.6],[.5,-.62],[.55,-.6],
[.35,.53],[.4,.5],[.31,.48],[.42,.37],[.47,.38],[.3,.38],[.36,.35],[.23,.25],[.28,.26],[.14,.25],[.18,.13],[.22,.15],[.26,.14],[.39,.26],[.44,.25],[.5,.3],[.53,.13],[.58,.16],[.6,.26],[.64,.14],[.72,.16],[.7,.24],[.12,.06],[.19,.05],[.32,.05],[.4,.03],[.44,.02],[.54,.05],[.6,.05],[.66,.07],[.73,.06],[.06,-.03],[.13,-.02],[.24,-.03],[.3,-.01],[.36,-.03],[.42,-.02],[.52,-.03],[.6,-.01],[.66,-.03],[.74,-.03],[.07,-.11],[.12,-.1],[.17,-.11],[.22,-.12],[.28,-.09],[.35,-.11],[.41,-.12],[.53,-.11],[.59,-.09],[.66,-.11],[.74,-.1],[.06,-.2],[.12,-.19],[.18,-.2],[.24,-.2],[.31,-.18],[.38,-.2],[.44,-.2],[.48,-.19],[.54,-.2],[.6,-.18],[.66,-.2],[.72,-.19],[.09,-.29],[.16,-.28],[.2,-.29],[.26,-.28],[.33,-.27],[.39,-.28],[.47,-.28],[.53,-.28],[.6,-.28],[.66,-.27],[.71,-.28],[.1,-.38],[.16,-.37],[.22,-.38],[.29,-.38],[.36,-.36],[.44,-.38],[.49,-.38],[.55,-.38],[.62,-.37],[.68,-.38],[.14,-.48],[.23,-.46],[.3,-.47],[.36,-.45],[.42,-.47],[.46,-.48],[.53,-.47],[.62,-.46],[.21,-.58],[.27,-.56],[.33,-.58],[.39,-.55],[.44,-.57],[.5,-.56],[.56,-.53],[.27,-.66],[.32,-.68],[.42,-.67],[.44,-.73],[.48,-.66],[.46,-.8],[.34,-.7]
];

const xTicksA1 = [-.2, -.1, 0, .1, .2, .3];
const yTicksA1 = [-.4, -.2, 0, .2, .4];
const xTicksA2 = [-.1, 0, .1, .2, .3];
const yTicksA2 = [-.4, -.2, 0, .2, .4, .6];
const xTicksA3 = [-.05, 0, .05, .1, .15];
const yTicksA3 = [-.4, -.2, 0, .2, .4, .6];
const xTicksI1 = [-1, 0, 1, 2, 3];
const yTicksI1 = [-2, -1, 0, 1, 2];
const xTicksI2 = [-1, 0, 1, 2];
const yTicksI2 = [-1, -.5, 0, .5, 1, 1.5];
const xTicksI3 = [-.5, 0, .5, 1, 1.5];
const yTicksI3 = [-2, -1, 0, 1, 2];

const titlesTop = ["Dependent variable = Alpha", "Dependent variable = Alpha", "Dependent variable = Alpha"];
const titlesBottom = ["Dependent variable = IR", "Dependent variable = IR", "Dependent variable = IR"];
const titlesEffect = ["Fixed effect year and firm", "Fixed effect firm", "No fixed effects"];

const page = document.getElementById("page");

// stata writes .2 and -.2, not 0.2
function stataLabel(v) {
  return String(+Number(v).toFixed(2)).replace(/^(-?)0\./, "$1.");
}

function addTitle(text, cx, cy) {
  const d = document.createElement("div");
  d.className = "title";
  d.textContent = text;
  d.style.left = (cx - 250) + "px";
  d.style.top = (cy - 17) + "px";
  page.appendChild(d);
}

function addFrame(l, t, r, b) {
  const d = document.createElement("div");
  d.className = "frame";
  d.style.left = l + "px";
  d.style.top = t + "px";
  d.style.width = (r - l) + "px";
  d.style.height = (b - t) + "px";
  page.appendChild(d);
}

// box is the plot area in page pixels
function addPanel(points, xTicks, yTicks, xRange, yRange, box) {
  const canvas = document.createElement("canvas");
  const left = box.l - 50, top = box.t - 12;
  canvas.width = box.r - box.l + 62;
  canvas.height = box.b - box.t + 60;
  canvas.style.left = left + "px";
  canvas.style.top = top + "px";
  page.appendChild(canvas);

  const tickFont = { family: "Liberation Sans", size: 12 };
  const titleFont = { family: "Liberation Sans", size: 12.5 };
  const axisColor = "#707070";

  new Chart(canvas, {
    type: "scatter",
    data: {
      datasets: [{
        data: points.map((p) => ({ x: p[0], y: p[1] })),
        pointRadius: 4,
        pointBackgroundColor: "#000",
        pointBorderWidth: 0,
        clip: false,
      }],
    },
    options: {
      responsive: false,
      animation: false,
      layout: {
        autoPadding: false,
        padding: {
          top: box.t - top,
          left: box.l - left - box.yAxis,
          right: canvas.width - (box.r - left),
          bottom: canvas.height - (box.b - top) - box.xAxis,
        },
      },
      plugins: { legend: { display: false }, tooltip: { enabled: false } },
      scales: {
        x: {
          type: "linear",
          min: xRange[0],
          max: xRange[1],
          afterBuildTicks: (scale) => { scale.ticks = xTicks.map((v) => ({ value: v })); },
          afterFit: (scale) => { scale.height = box.xAxis; },
          border: { color: axisColor, width: 1.5 },
          grid: { drawOnChartArea: false, tickColor: axisColor, tickLength: 4 },
          ticks: { font: tickFont, color: "#3a3a3a", padding: 6, maxRotation: 0, autoSkip: false, callback: stataLabel },
          title: { display: true, text: "Fitted values", font: titleFont, color: "#444", padding: 0 },
        },
        y: {
          type: "linear",
          min: yRange[0],
          max: yRange[1],
          afterBuildTicks: (scale) => { scale.ticks = yTicks.map((v) => ({ value: v })); },
          afterFit: (scale) => { scale.width = box.yAxis; },
          border: { color: axisColor, width: 1.5 },
          grid: { color: "#e9f2f3", tickColor: axisColor, tickLength: 4 },
          ticks: { font: tickFont, color: "#3a3a3a", padding: 4, minRotation: 90, maxRotation: 90, crossAlign: "center", autoSkip: false, callback: stataLabel },
          title: { display: true, text: "Residuals", font: titleFont, color: "#444", padding: 0 },
        },
      },
    },
  });
}

addFrame(12, 81, 507, 470);
addFrame(507, 81, 1003, 470);
addFrame(1003, 81, 1502, 470);
addFrame(12, 555, 507, 930);
addFrame(508, 551, 1015, 930);
addFrame(1015, 551, 1530, 930);

addTitle(titlesTop[0], 279, 22);
addTitle(titlesEffect[0], 279, 55);
addTitle(titlesTop[1], 776, 22);
addTitle(titlesEffect[1], 776, 55);
addTitle(titlesTop[2], 1288, 23);
addTitle(titlesEffect[2], 1288, 57);
addTitle(titlesBottom[0], 279, 482);
addTitle(titlesEffect[0], 279, 515);
addTitle(titlesBottom[1], 776, 482);
addTitle(titlesEffect[1], 776, 515);
addTitle(titlesBottom[2], 1288, 483);
addTitle(titlesEffect[2], 1288, 517);

addPanel(alphaYearFirm.concat(alphaYearFirmCore), xTicksA1, yTicksA1, [-.218, .3385], [-.424, .474], { l: 59, t: 95, r: 494, b: 419, xAxis: 36, yAxis: 36 });
addPanel(alphaFirm.concat(alphaFirmCore), xTicksA2, yTicksA2, [-.1208, .3115], [-.428, .625], { l: 557, t: 95, r: 991, b: 419, xAxis: 36, yAxis: 36 });
addPanel(alphaNone.concat(alphaNoneCore), xTicksA3, yTicksA3, [-.0676, .1544], [-.437, .625], { l: 1053, t: 95, r: 1489, b: 419, xAxis: 36, yAxis: 36 });
addPanel(irYearFirm, xTicksI1, yTicksI1, [-1.073, 3.04], [-2.11, 2.112], { l: 61, t: 568, r: 507, b: 877, xAxis: 35, yAxis: 37 });
addPanel(irFirm, xTicksI2, yTicksI2, [-1.059, 2.102], [-1.301, 1.735], { l: 559, t: 564, r: 1013, b: 877, xAxis: 35, yAxis: 37 });
addPanel(irNone, xTicksI3, yTicksI3, [-.534, 1.536], [-2.126, 2.335], { l: 1067, t: 564, r: 1520, b: 877, xAxis: 35, yAxis: 37 });
</script>
</body>
</html>
